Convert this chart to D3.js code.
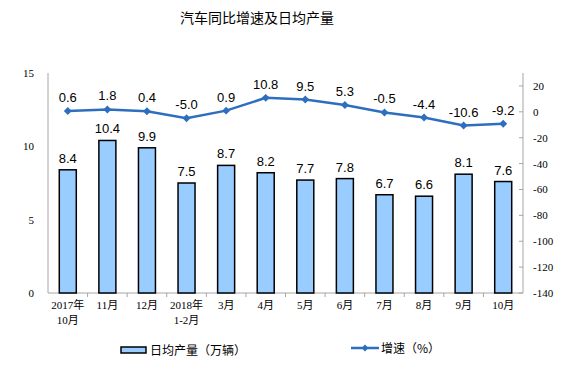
<!DOCTYPE html>
<html>
<head>
<meta charset="utf-8">
<script src="https://cdn.jsdelivr.net/npm/d3@7"></script>
<style>
  body { margin: 0; background: #fff; }
  text { fill: #000; }
</style>
</head>
<body>
<svg width="575" height="369"></svg>
<script>
var categories = ["2017年\n10月", "11月", "12月", "2018年\n1-2月", "3月", "4月", "5月", "6月", "7月", "8月", "9月", "10月"];
var output = [8.4, 10.4, 9.9, 7.5, 8.7, 8.2, 7.7, 7.8, 6.7, 6.6, 8.1, 7.6];
var growth = [0.6, 1.8, 0.4, -5.0, 0.9, 10.8, 9.5, 5.3, -0.5, -4.4, -10.6, -9.2];
var leftTicks = [0, 5, 10, 15];
var rightTicks = [20, 0, -20, -40, -60, -80, -100, -120, -140];

var svg = d3.select("svg"),
    pLeft = 48, pRight = 523, pTop = 73, pBottom = 293;

var x = d3.scaleBand().domain(categories).range([pLeft, pRight]);
var yL = d3.scaleLinear().domain([0, 15]).range([pBottom, pTop]);
var yR = d3.scaleLinear().domain([-140, 30]).range([pBottom, pTop]);
function cx(i) { return x(categories[i]) + x.bandwidth() / 2; }

svg.append("text")
  .attr("x", 257).attr("y", 23)
  .attr("text-anchor", "middle")
  .style("font-family", "Noto Sans CJK SC")
  .style("font-size", "14px")
  .text("汽车同比增速及日均产量");

// axes
var axisColor = "#a6a6a6";
svg.append("line").attr("x1", pLeft).attr("x2", pLeft).attr("y1", pTop).attr("y2", pBottom).attr("stroke", axisColor);
svg.append("line").attr("x1", pRight).attr("x2", pRight).attr("y1", pTop).attr("y2", pBottom).attr("stroke", axisColor);
svg.append("line").attr("x1", pLeft).attr("x2", pRight).attr("y1", pBottom).attr("y2", pBottom).attr("stroke", axisColor);

svg.selectAll(".lt").data(leftTicks).enter().append("text")
  .attr("x", 34).attr("y", function(d) { return yL(d) + 4; })
  .attr("text-anchor", "end")
  .style("font-family", "Liberation Serif").style("font-size", "11px")
  .text(function(d) { return d; });

svg.selectAll(".rtk").data(rightTicks).enter().append("line")
  .attr("x1", pRight - 4).attr("x2", pRight)
  .attr("y1", function(d) { return yR(d); }).attr("y2", function(d) { return yR(d); })
  .attr("stroke", axisColor);

svg.selectAll(".rt").data(rightTicks).enter().append("text")
  .attr("x", 533).attr("y", function(d) { return yR(d) + 4; })
  .style("font-family", "Liberation Serif").style("font-size", "11px")
  .text(function(d) { return d; });

// x ticks between categories
svg.selectAll(".xt").data(categories.slice(1)).enter().append("line")
  .attr("x1", function(d) { return x(d); }).attr("x2", function(d) { return x(d); })
  .attr("y1", pBottom).attr("y2", pBottom + 4)
  .attr("stroke", axisColor);

var xl = svg.selectAll(".xl").data(categories).enter().append("text")
  .attr("text-anchor", "middle")
  .style("font-family", "Liberation Serif, Noto Sans CJK SC").style("font-size", "11px");
xl.each(function(d, i) {
  var t = d3.select(this);
  d.split("\n").forEach(function(s, j) {
    t.append("tspan").attr("x", cx(i)).attr("y", 309 + j * 15).text(s);
  });
});

// bars
var bw = 17;
svg.selectAll(".bar").data(output).enter().append("rect")
  .attr("x", function(d, i) { return cx(i) - bw / 2; })
  .attr("y", function(d) { return yL(d); })
  .attr("width", bw)
  .attr("height", function(d) { return pBottom - yL(d); })
  .attr("fill", "#99ccff").attr("stroke", "#000").attr("stroke-width", 1.5);

svg.selectAll(".bl").data(output).enter().append("text")
  .attr("x", function(d, i) { return cx(i); })
  .attr("y", function(d) { return yL(d) - 7; })
  .attr("text-anchor", "middle")
  .style("font-family", "Liberation Sans").style("font-size", "13px")
  .text(function(d) { return d.toFixed(1); });

// line
var lineColor = "#2e6ebf";
var line = d3.line()
  .x(function(d, i) { return cx(i); })
  .y(function(d) { return yR(d); });
svg.append("path").datum(growth).attr("d", line)
  .attr("fill", "none").attr("stroke", lineColor).attr("stroke-width", 2.5);

svg.selectAll(".pt").data(growth).enter().append("path")
  .attr("d", d3.symbol(d3.symbolDiamond2, 40))
  .attr("transform", function(d, i) { return "translate(" + cx(i) + "," + yR(d) + ")"; })
  .attr("fill", lineColor);

svg.selectAll(".gl").data(growth).enter().append("text")
  .attr("x", function(d, i) { return cx(i); })
  .attr("y", function(d) { return yR(d) - 9; })
  .attr("text-anchor", "middle")
  .style("font-family", "Liberation Sans").style("font-size", "13px")
  .text(function(d) { return d.toFixed(1); });

// legend
svg.append("rect").attr("x", 121).attr("y", 347).attr("width", 25).attr("height", 6)
  .attr("fill", "#99ccff").attr("stroke", "#000").attr("stroke-width", 1.5);
svg.append("text").attr("x", 150).attr("y", 355)
  .style("font-family", "Noto Sans CJK SC").style("font-size", "12px")
  .text("日均产量（万辆）");
svg.append("line").attr("x1", 351).attr("x2", 379).attr("y1", 348).attr("y2", 348)
  .attr("stroke", lineColor).attr("stroke-width", 2.5);
svg.append("path").attr("d", d3.symbol(d3.symbolDiamond2, 30))
  .attr("transform", "translate(365,348)").attr("fill", lineColor);
svg.append("text").attr("x", 381).attr("y", 353)
  .style("font-family", "Noto Sans CJK SC").style("font-size", "12px")
  .text("增速（%）");
</script>
</body>
</html>
